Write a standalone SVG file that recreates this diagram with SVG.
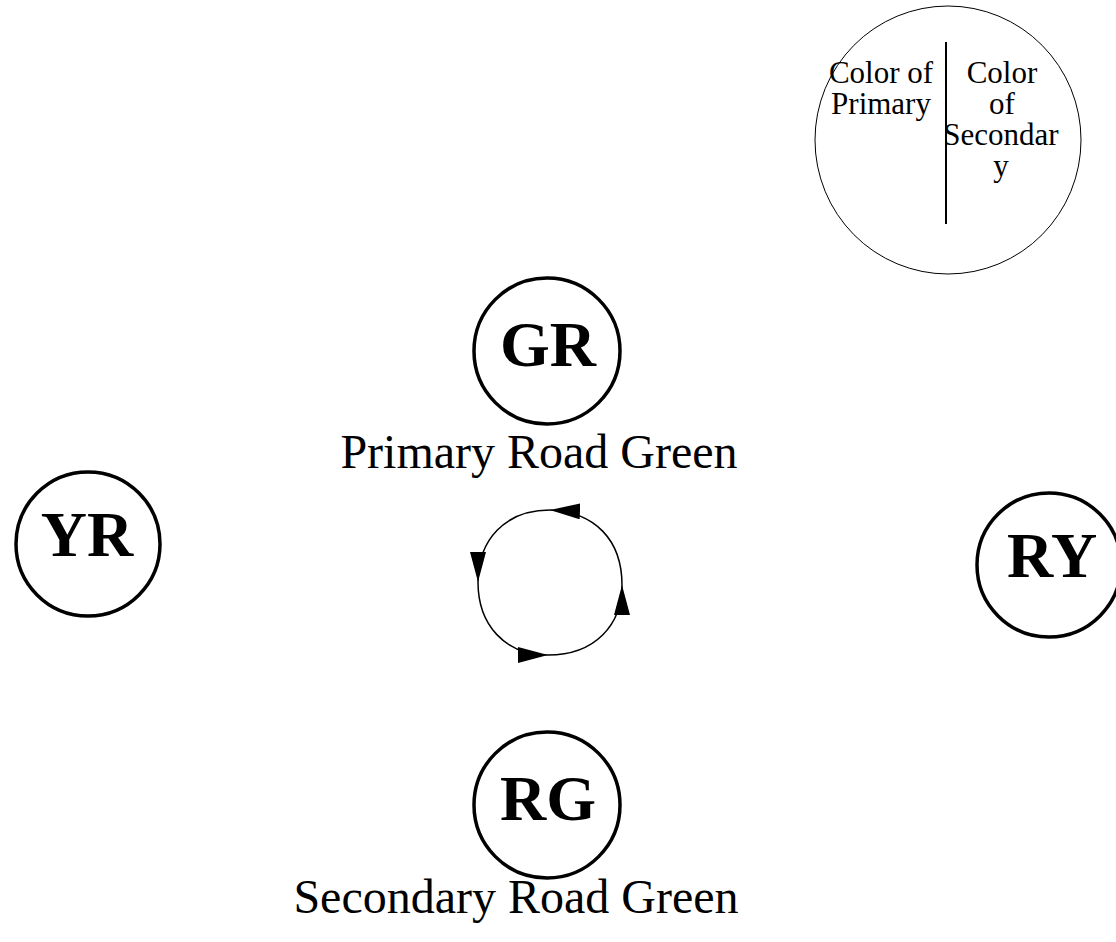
<svg xmlns="http://www.w3.org/2000/svg" width="1116" height="942" viewBox="0 0 1116 942">
<style>
.state{fill:none;stroke:#000;stroke-width:3.5}
.slabel{font-family:"Liberation Serif","Times New Roman",serif;font-weight:bold;font-size:64px;text-anchor:middle;fill:#000}
.cap{font-family:"Liberation Serif","Times New Roman",serif;font-size:48px;text-anchor:middle;fill:#000}
.key{font-family:"Liberation Serif","Times New Roman",serif;font-size:31px;text-anchor:middle;fill:#000}
.cyc{fill:none;stroke:#000;stroke-width:1.5}
</style>
<defs>
<marker id="ah" markerUnits="userSpaceOnUse" markerWidth="32" markerHeight="18" refX="30" refY="8" orient="auto">
<path d="M0,0 L30,8 L0,16 z" fill="#000"/>
</marker>
</defs>
<rect width="1116" height="942" fill="#fff"/>
<g id="legend">
<ellipse cx="948" cy="140" rx="133" ry="134" fill="none" stroke="#000" stroke-width="1"/>
<line x1="946" y1="42" x2="946" y2="224" stroke="#000" stroke-width="2"/>
<text class="key" x="881" y="83">Color of</text>
<text class="key" x="881" y="114">Primary</text>
<text class="key" x="1002" y="83">Color</text>
<text class="key" x="1002" y="114">of</text>
<text class="key" x="1001" y="145">Secondar</text>
<text class="key" x="1001" y="176">y</text>
</g>
<g id="GR">
<circle class="state" cx="547" cy="351" r="73"/>
<text class="slabel" x="548" y="366">GR</text>
<text class="cap" x="539" y="468">Primary Road Green</text>
</g>
<g id="YR">
<circle class="state" cx="88" cy="544" r="72"/>
<text class="slabel" x="87" y="556">YR</text>
</g>
<g id="RY">
<circle class="state" cx="1049" cy="565" r="72"/>
<text class="slabel" x="1052" y="577">RY</text>
</g>
<g id="RG">
<circle class="state" cx="547" cy="805" r="73"/>
<text class="slabel" x="548" y="820">RG</text>
<text class="cap" x="516" y="913">Secondary Road Green</text>
</g>
<g id="connectors">
<path class="cyc" d="M622,585 C622,540 595,512 550,510" marker-end="url(#ah)"/>
<path class="cyc" d="M550,510 C505,510 478,540 478,582" marker-end="url(#ah)"/>
<path class="cyc" d="M478,582 C478,625 505,655 548,655" marker-end="url(#ah)"/>
<path class="cyc" d="M548,655 C595,655 622,625 622,585" marker-end="url(#ah)"/>
</g>
</svg>
